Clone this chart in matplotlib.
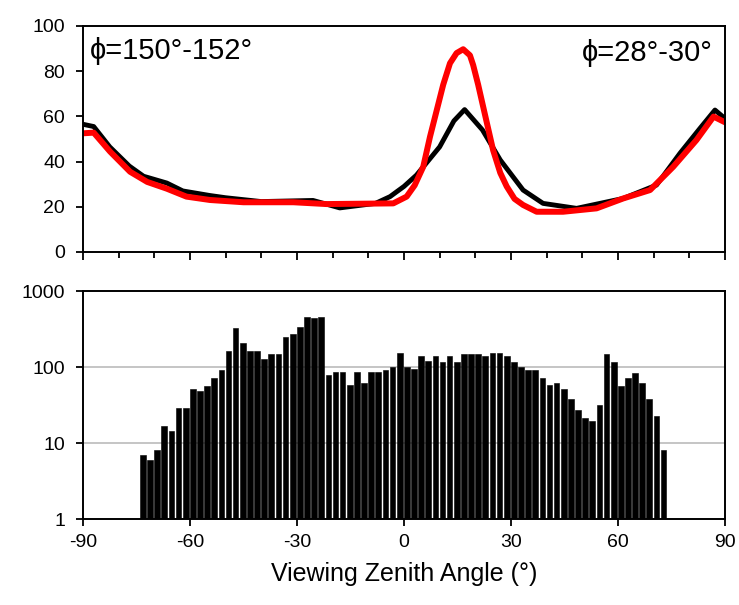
import numpy as np
import matplotlib.pyplot as plt
from matplotlib.ticker import MultipleLocator, NullLocator, FixedLocator

plt.rcParams['font.family'] = ['Liberation Sans', 'DejaVu Sans']
plt.rcParams['axes.unicode_minus'] = False

# top panel: two curves (viewing zenith angle, value)
black_x = [-90, -87, -82.5, -77, -73, -66.5, -62, -54.5, -50, -40, -25.5, -18, -8, -3.9, -2, 0,
           3.5, 10, 14, 17, 22, 27, 33.4, 39, 48.4, 61.5, 70.8, 77.4, 83, 87.2, 90.5]
black_y = [56.5, 55.5, 46.5, 38, 33.5, 30.5, 27, 25, 24, 22.3, 22.8, 19.5, 21.5, 24.5, 26.7, 29,
           34, 46.5, 58, 63, 54, 40.7, 27.4, 21.5, 19.3, 23.7, 29.6, 43.7, 54.7, 62.8, 58.4]

red_x = [-90, -87, -82.4, -76.8, -72, -66.5, -61, -54.4, -45, -31, -21.7, -3, 0.75, 3, 5.4, 7.3,
         9.2, 11, 12.9, 14.75, 16.6, 18.5, 19.4, 20.8, 22.2, 25, 27, 28.8, 31, 33.4, 37.2, 44.6,
         54, 61.5, 69, 75.5, 82, 86.8, 90.5]
red_y = [52.5, 52.8, 44.4, 35.5, 31, 28, 24.5, 23, 22, 22, 21.2, 21.5, 24.5, 29.5, 37.7, 51,
         62.8, 74, 83.5, 88, 89.7, 87, 82.7, 74, 64.3, 45, 35, 29, 23.5, 20.8, 17.8, 17.8,
         19.3, 23.7, 27.4, 37.7, 49.5, 59.9, 57]

# bottom panel: counts per 2 degree bin, left edges -74 .. 72
bin_left = np.arange(-74, 74, 2)
counts = [7.0, 6.0, 8.1, 16.5, 14.5, 29, 29, 51, 48, 56,
          71, 92, 160, 330, 205, 160, 160, 127, 147, 147,
          246, 269, 333, 458, 436, 458, 78, 85, 85, 58,
          85, 61, 85, 85, 91, 101, 151, 101, 94, 140,
          120, 140, 115, 140, 115, 148, 148, 148, 140, 151,
          151, 140, 115, 101, 90, 91, 71, 58, 61, 52,
          38, 27, 21.5, 19.5, 32, 150, 117, 56, 72, 84,
          61, 38, 23, 8.1]

fig = plt.figure(figsize=(7.39, 6.05), dpi=100)
ax1 = fig.add_axes([0.1123, 0.5835, 0.8687, 0.3736])
ax2 = fig.add_axes([0.1123, 0.1421, 0.8687, 0.3769])

ax1.plot(black_x, black_y, color='black', lw=3.5, solid_joinstyle='round')
ax1.plot(red_x, red_y, color='red', lw=4.3, solid_joinstyle='round')
ax1.set_xlim(-90, 90)
ax1.set_ylim(0, 100)
ax1.yaxis.set_major_locator(MultipleLocator(20))
ax1.xaxis.set_major_locator(MultipleLocator(30))
ax1.xaxis.set_minor_locator(MultipleLocator(10))
ax1.tick_params(axis='x', which='both', labelbottom=False)
ax1.tick_params(axis='x', which='major', length=6, width=1.3)
ax1.tick_params(axis='x', which='minor', length=4, width=1.3)
ax1.tick_params(axis='y', length=5, width=1.3, labelsize=14, pad=8)
ax1.text(0.011, 0.89, 'ϕ=150°-152°', transform=ax1.transAxes, fontsize=21,
         ha='left', va='center')
ax1.text(0.981, 0.88, 'ϕ=28°-30°', transform=ax1.transAxes, fontsize=21,
         ha='right', va='center')

ax2.bar(bin_left, counts, width=1.6, align='edge', color='black', edgecolor='black',
        linewidth=0.4, zorder=2)
ax2.set_yscale('log')
ax2.set_ylim(1, 1000)
ax2.set_xlim(-90, 90)
ax2.yaxis.set_major_locator(FixedLocator([1, 10, 100, 1000]))
ax2.yaxis.set_minor_locator(NullLocator())
ax2.set_yticklabels(['1', '10', '100', '1000'])
ax2.xaxis.set_major_locator(MultipleLocator(30))
for v in [10, 100]:
    ax2.axhline(v, color='#c0c0c0', lw=1.3, zorder=1)
ax2.tick_params(axis='x', length=5, width=1.3, labelsize=14, pad=6)
ax2.tick_params(axis='y', length=5, width=1.3, labelsize=14, pad=8)
ax2.set_xlabel('Viewing Zenith Angle (°)', fontsize=18, labelpad=8)

for ax in (ax1, ax2):
    for s in ax.spines.values():
        s.set_linewidth(1.4)

fig.savefig('out.png', dpi=100)
